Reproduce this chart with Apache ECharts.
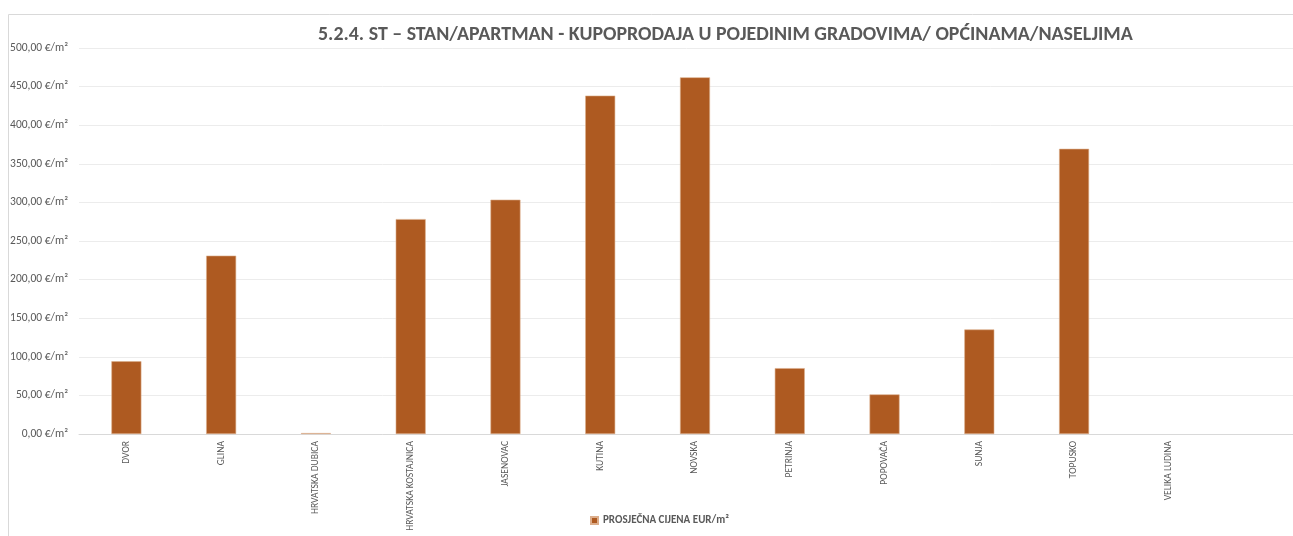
<!DOCTYPE html>
<html>
<head>
<meta charset="utf-8">
<script src="https://cdn.jsdelivr.net/npm/echarts@6/dist/echarts.min.js"></script>
<style>
  html, body { margin: 0; padding: 0; background: #fff; }
  #main { width: 1293px; height: 536px; }
</style>
</head>
<body>
<div id="main"></div>
<script>
var categories = ['DVOR', 'GLINA', 'HRVATSKA DUBICA', 'HRVATSKA KOSTAJNICA', 'JASENOVAC',
  'KUTINA', 'NOVSKA', 'PETRINJA', 'POPOVAČA', 'SUNJA', 'TOPUSKO', 'VELIKA LUDINA'];
var prices = [94.2, 231, 1.2, 278.4, 303.5, 438.3, 462, 85.3, 51.3, 135.4, 369.4, null];
var seriesName = 'PROSJEČNA CIJENA EUR/m²';
var titleText = '5.2.4. ST – STAN/APARTMAN - KUPOPRODAJA U POJEDINIM GRADOVIMA/ OPĆINAMA/NASELJIMA';

(function() {
  var myChart = echarts.init(document.getElementById('main'));
  var font = 'Carlito, "Open Sans", sans-serif';
  var option = {
    animation: false,
    textStyle: { fontFamily: font },
    title: {
      text: titleText,
      left: 313,
      top: 20,
      textStyle: { fontSize: 19.9, fontWeight: 'bold', color: '#595959', fontFamily: font }
    },
    graphic: [{
      type: 'rect',
      shape: { x: 8.5, y: 14.5, width: 1400, height: 600 },
      style: { fill: 'none', stroke: '#d9d9d9', lineWidth: 1 },
      silent: true
    }],
    legend: {
      bottom: 5,
      left: 585,
      itemWidth: 7,
      itemHeight: 7,
      itemGap: 4,
      icon: 'rect',
      textStyle: { fontSize: 11, color: '#595959', fontWeight: 'bold', fontFamily: font }
    },
    grid: {
      left: 79, top: 48, bottom: 102, width: 1232,
      containLabel: false, outerBoundsMode: 'none'
    },
    xAxis: {
      type: 'category',
      data: categories,
      max: 12,
      axisLine: { lineStyle: { color: '#d9d9d9' } },
      axisTick: { show: false },
      axisLabel: {
        rotate: 90,
        interval: 0,
        margin: 7,
        fontSize: 9.6,
        color: '#595959'
      },
      splitLine: { show: false }
    },
    yAxis: {
      type: 'value',
      min: 0,
      max: 500,
      interval: 50,
      axisLine: { show: false },
      axisTick: { show: false },
      splitLine: { lineStyle: { color: '#ececec' } },
      axisLabel: {
        margin: 11,
        fontSize: 11.5,
        color: '#595959',
        formatter: function (v) { return v.toFixed(2).replace('.', ',') + ' €/m²'; }
      }
    },
    series: [{
      name: seriesName,
      type: 'bar',
      data: prices,
      barWidth: 30,
      itemStyle: { color: '#ae5a21', borderColor: '#dcae8c', borderWidth: 0.6 }
    }]
  };
  myChart.setOption(option, true);
})();
</script>
</body>
</html>
